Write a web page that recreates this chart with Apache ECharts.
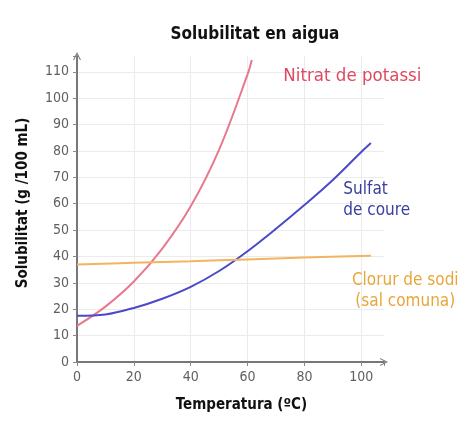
<!DOCTYPE html>
<html>
<head>
<meta charset="utf-8">
<script src="https://cdn.jsdelivr.net/npm/echarts@6/dist/echarts.min.js"></script>
<style>
  html, body { margin: 0; padding: 0; background: #fff; }
  #chart { width: 465px; height: 428px; }
</style>
</head>
<body>
<div id="chart"></div>
<script>
const FONT = '"Liberation Sans Narrow", "DejaVu Sans Condensed", "Noto Sans", sans-serif'

// solubilitat (g / 100 mL) llegida de la imatge, parells [temperatura, valor]
const nitratPotassi = [[0, 13.7], [10, 21], [20, 30.5], [30, 43], [40, 59], [50, 80.5], [60, 109], [61.5, 114.5]]
const sulfatCoure = [[0, 17.5], [10, 18], [20, 20.5], [30, 24], [40, 28.5], [50, 34.5], [60, 42], [70, 50.5], [80, 59.5], [90, 69], [100, 79.6], [103.4, 83]]
const clorurSodi = [[0, 37], [20, 37.6], [40, 38.2], [60, 38.9], [80, 39.6], [103.4, 40.3]]

const xTicks = [0, 20, 40, 60, 80, 100]
const yTicks = [0, 10, 20, 30, 40, 50, 60, 70, 80, 90, 100, 110]

// [x, y] on posen els noms de les corbes
const nitratLabelAt = [72.6, 108.4]
const sulfatLabelAt = [93.7, 61.4]
const clorurLabelAt = [100, 26.8]

const chevron = 'path://M0,10 L5,0 L10,10 L8.6,10 L5,2.8 L1.4,10 Z'

const chart = echarts.init(document.getElementById('chart'))

const axisCommon = {
  axisLine: { show: true, symbol: ['none', chevron], symbolSize: [10, 8], lineStyle: { color: '#777', width: 2 } },
  axisTick: { show: true, length: 4, lineStyle: { color: '#888' } },
  splitLine: { show: true, showMinLine: false, showMaxLine: false, lineStyle: { color: '#ebebeb', width: 1 } },
  nameTextStyle: { fontFamily: FONT, fontWeight: 'bold', fontSize: 15, color: '#111' }
}

const tickLabel = ticks => ({
  fontFamily: FONT, fontSize: 14, color: '#606060', margin: 8,
  formatter: v => ticks.includes(v) ? String(v) : ''
})

const curveLabel = (coord, text, color, align, size, offset) => ({
  symbol: 'circle',
  symbolSize: 1,
  itemStyle: { color: 'rgba(0,0,0,0)' },
  data: [{ coord: coord }],
  label: {
    show: true, position: 'inside', formatter: text, color: color, offset: offset || [0, 0],
    fontFamily: FONT, fontSize: size, align: align, verticalAlign: 'middle', lineHeight: 21
  }
})

chart.setOption({
  animation: false,
  title: {
    text: 'Solubilitat en aigua',
    left: 250,
    textAlign: 'center',
    top: 21,
    textStyle: { fontFamily: FONT, fontWeight: 'bold', fontSize: 17, color: '#111' }
  },
  grid: { left: 77, right: 81, top: 56, bottom: 66 },
  xAxis: Object.assign({}, axisCommon, {
    type: 'value',
    min: 0,
    max: 108,
    interval: 20,
    name: 'Temperatura (ºC)',
    nameLocation: 'middle',
    nameGap: 36,
    nameTextStyle: Object.assign({}, axisCommon.nameTextStyle, { padding: [0, 0, 0, 22] }),
    axisLabel: tickLabel(xTicks)
  }),
  yAxis: Object.assign({}, axisCommon, {
    type: 'value',
    min: 0,
    max: 116,
    interval: 10,
    name: 'Solubilitat (g /100 mL)',
    nameLocation: 'middle',
    nameGap: 46,
    nameTextStyle: Object.assign({}, axisCommon.nameTextStyle, { padding: [0, 0, 0, 12] }),
    axisLabel: tickLabel(yTicks)
  }),
  series: [
    {
      type: 'line', data: nitratPotassi, smooth: 0.35, showSymbol: false,
      lineStyle: { color: '#e8788c', width: 2 },
      markPoint: curveLabel(nitratLabelAt, 'Nitrat de potassi', '#dc4a62', 'left', 18.5)
    },
    {
      type: 'line', data: sulfatCoure, smooth: 0.35, showSymbol: false,
      lineStyle: { color: '#4a4ac8', width: 2 },
      markPoint: curveLabel(sulfatLabelAt, 'Sulfat\nde coure', '#3a3f9e', 'left', 17)
    },
    {
      type: 'line', data: clorurSodi, smooth: 0.35, showSymbol: false,
      lineStyle: { color: '#f2b45e', width: 2 },
      markPoint: curveLabel(clorurLabelAt, 'Clorur de sodi\n(sal comuna)', '#e8a63a', 'center', 17, [44, 0])
    }
  ]
})
</script>
</body>
</html>
